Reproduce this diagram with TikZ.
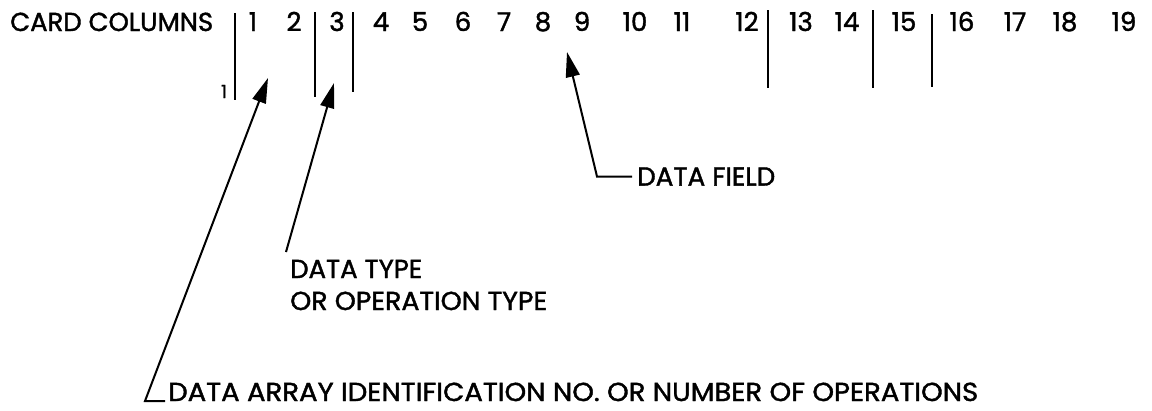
\documentclass[tikz,border=0pt]{standalone}
\usepackage{fontspec}
\setmainfont{Poppins}[FakeBold=1.5]
\usetikzlibrary{arrows.meta}
\newcommand\fitw[2]{\resizebox{#1}{\height}{#2}}
\tikzset{
  lbl/.style={inner sep=0pt, font=\fontsize{26}{28}\selectfont},
  digit/.style={lbl, anchor=base},
  sep/.style={line width=2.8pt},
  conn/.style={line width=2pt, -{Triangle[length=25pt,width=14pt]}},
}
\begin{document}
\begin{tikzpicture}[x=1pt,y=-1pt]
\useasboundingbox (0,0) rectangle (1152,410);
% heading
\node[lbl, anchor=base west] (cc) at (10,31) {\fitw{203pt}{CARD COLUMNS}};
\foreach \n/\x in {1/253,2/294,3/337,4/381,5/420,6/463,7/504,8/543,9/582,10/635,11/682,12/747,13/801,14/847,15/904,16/962,17/1015,18/1065,19/1124}{
  \node[digit] (c\n) at (\x,31) {\n};
}
\node[lbl, anchor=base, font=\fontsize{18}{20}\selectfont] (one) at (224,98) {1};
% separators
\draw[sep] (235,13) -- (235,100);
\draw[sep] (315,12) -- (315,97);
\draw[sep] (353,12) -- (353,92);
\draw[sep] (768,10) -- (768,88);
\draw[sep] (873,10) -- (873,88);
\draw[sep] (932,14) -- (932,87);
% labels
\node[lbl, anchor=west, inner xsep=5pt] (df) at (632,176.5) {\fitw{138pt}{DATA FIELD}};
\node[lbl, anchor=base west] (dt) at (290,278) {\fitw{132pt}{DATA TYPE}};
\node[lbl, anchor=base west] (ot) at (290,310) {\fitw{257pt}{OR OPERATION TYPE}};
\node[lbl, anchor=base west, inner xsep=3pt] (da) at (165,401) {\fitw{810pt}{DATA ARRAY IDENTIFICATION NO. OR NUMBER OF OPERATIONS}};
% connector points
\coordinate (tipA) at (268,78);
\coordinate (cornA) at (145,401);
\coordinate (tipB) at (334,83);
\coordinate (tailB) at (286,252);
\coordinate (tipC) at (567,52);
\coordinate (cornC) at (597,176.5);
% connectors
\draw[conn] (da.base west) -- (cornA) -- (tipA);
\draw[conn] (tailB) -- (tipB);
\draw[conn] (df.west) -- (cornC) -- (tipC);
\end{tikzpicture}
\end{document}
